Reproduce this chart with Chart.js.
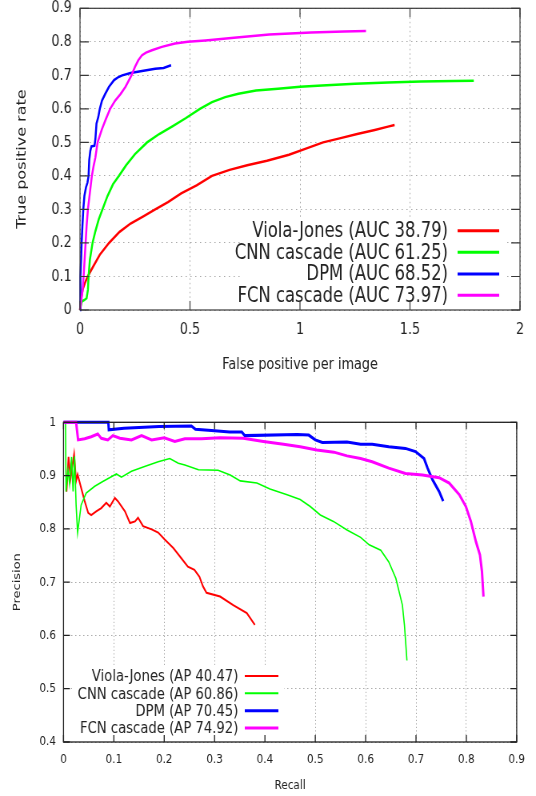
<!DOCTYPE html>
<html><head><meta charset="utf-8">
<script src="https://cdn.jsdelivr.net/npm/chart.js@4.4.1/dist/chart.umd.min.js"></script>
<style>
html,body{margin:0;padding:0;background:#fff;overflow:hidden;}
#wrap{width:536px;height:796px;position:relative;overflow:hidden;background:#fff;}
canvas{position:absolute;left:0;transform:scaleX(0.8);transform-origin:0 0;}
#c1{top:0;}
#c2{top:390px;}
</style></head><body>
<div id="wrap">
<canvas id="c1" width="670" height="380" style="width:670px;height:380px"></canvas>
<canvas id="c2" width="670" height="406" style="width:670px;height:406px"></canvas>
</div>
<script>
// ---------- ROC chart data (false positive per image vs true positive rate) ----------
const rocSeriesLabels = ['Viola-Jones (AUC 38.79)', 'CNN cascade (AUC 61.25)', 'DPM (AUC 68.52)', 'FCN cascade (AUC 73.97)'];
const rocXTickValues = [0, 0.5, 1, 1.5, 2];
const rocXTickLabels = ['0', '0.5', '1', '1.5', '2'];
const rocYTickValues = [0, 0.1, 0.2, 0.3, 0.4, 0.5, 0.6, 0.7, 0.8, 0.9];
const rocYTickLabels = ['0', '0.1', '0.2', '0.3', '0.4', '0.5', '0.6', '0.7', '0.8', '0.9'];

const rocVjFP  = [0, 0.004, 0.012, 0.022, 0.035, 0.06, 0.09, 0.132, 0.18, 0.23, 0.29, 0.342, 0.40, 0.46, 0.53, 0.60, 0.68, 0.76, 0.85, 0.95, 1.03, 1.105, 1.18, 1.26, 1.34, 1.40, 1.43];
const rocVjTPR = [0, 0.03, 0.06, 0.08, 0.1, 0.13, 0.165, 0.2, 0.233, 0.258, 0.28, 0.3, 0.322, 0.348, 0.372, 0.4, 0.418, 0.432, 0.445, 0.463, 0.482, 0.5, 0.512, 0.525, 0.537, 0.547, 0.552];

const rocCnnFP  = [0, 0.008, 0.02, 0.03, 0.036, 0.039, 0.045, 0.057, 0.07, 0.085, 0.102, 0.125, 0.15, 0.177, 0.21, 0.25, 0.305, 0.36, 0.42, 0.48, 0.545, 0.6, 0.66, 0.72, 0.8, 0.9, 1.0, 1.1, 1.25, 1.4, 1.55, 1.7, 1.79];
const rocCnnTPR = [0, 0.025, 0.03, 0.035, 0.06, 0.1, 0.15, 0.2, 0.235, 0.27, 0.3, 0.34, 0.375, 0.4, 0.432, 0.465, 0.5, 0.525, 0.548, 0.572, 0.6, 0.62, 0.635, 0.645, 0.655, 0.66, 0.666, 0.67, 0.675, 0.679, 0.682, 0.683, 0.684];

const rocDpmFP  = [0, 0.001, 0.003, 0.005, 0.0075, 0.011, 0.015, 0.02, 0.027, 0.034, 0.039, 0.042, 0.047, 0.052, 0.066, 0.07, 0.075, 0.083, 0.09, 0.1, 0.115, 0.132, 0.155, 0.175, 0.192, 0.23, 0.282, 0.342, 0.38, 0.414];
const rocDpmTPR = [0, 0.06, 0.1, 0.15, 0.2, 0.25, 0.3, 0.34, 0.365, 0.38, 0.4, 0.447, 0.475, 0.488, 0.49, 0.51, 0.556, 0.575, 0.6, 0.625, 0.645, 0.666, 0.686, 0.695, 0.70, 0.707, 0.713, 0.72, 0.722, 0.73];

const rocFcnFP  = [0, 0.006, 0.012, 0.0165, 0.021, 0.0255, 0.03, 0.036, 0.045, 0.054, 0.062, 0.07, 0.08, 0.1, 0.118, 0.137, 0.16, 0.185, 0.207, 0.234, 0.25, 0.265, 0.282, 0.3, 0.327, 0.372, 0.432, 0.49, 0.57, 0.7, 0.86, 1.05, 1.2, 1.30];
const rocFcnTPR = [0, 0.03, 0.06, 0.1, 0.15, 0.2, 0.25, 0.3, 0.35, 0.4, 0.43, 0.455, 0.5, 0.54, 0.57, 0.6, 0.625, 0.645, 0.666, 0.7, 0.725, 0.745, 0.76, 0.768, 0.775, 0.785, 0.795, 0.8, 0.804, 0.812, 0.822, 0.828, 0.831, 0.832];

// ---------- Precision / recall chart data ----------
const prSeriesLabels = ['Viola-Jones (AP 40.47)', 'CNN cascade (AP 60.86)', 'DPM (AP 70.45)', 'FCN cascade (AP 74.92)'];
const prXTickValues = [0, 0.1, 0.2, 0.3, 0.4, 0.5, 0.6, 0.7, 0.8, 0.9];
const prXTickLabels = ['0', '0.1', '0.2', '0.3', '0.4', '0.5', '0.6', '0.7', '0.8', '0.9'];
const prYTickValues = [0.4, 0.5, 0.6, 0.7, 0.8, 0.9, 1];
const prYTickLabels = ['0.4', '0.5', '0.6', '0.7', '0.8', '0.9', '1'];

const prVjRecall    = [0.006, 0.01, 0.014, 0.021, 0.025, 0.028, 0.035, 0.042, 0.049, 0.055, 0.065, 0.075, 0.085, 0.092, 0.102, 0.108, 0.122, 0.132, 0.142, 0.148, 0.158, 0.175, 0.188, 0.201, 0.218, 0.234, 0.247, 0.26, 0.27, 0.277, 0.284, 0.311, 0.337, 0.364, 0.38];
const prVjPrecision = [0.87, 0.935, 0.895, 0.94, 0.89, 0.902, 0.877, 0.852, 0.83, 0.826, 0.833, 0.839, 0.849, 0.842, 0.858, 0.852, 0.833, 0.811, 0.814, 0.821, 0.805, 0.799, 0.793, 0.78, 0.764, 0.745, 0.729, 0.723, 0.71, 0.692, 0.68, 0.673, 0.657, 0.642, 0.62];

const prCnnRecall    = [0.004, 0.005, 0.009, 0.012, 0.016, 0.019, 0.022, 0.025, 0.028, 0.035, 0.045, 0.062, 0.078, 0.095, 0.105, 0.115, 0.135, 0.161, 0.188, 0.211, 0.228, 0.241, 0.268, 0.307, 0.331, 0.351, 0.384, 0.41, 0.444, 0.47, 0.49, 0.51, 0.536, 0.563, 0.59, 0.607, 0.63, 0.646, 0.66, 0.673, 0.677, 0.68, 0.682];
const prCnnPrecision = [1.0, 0.87, 0.91, 0.885, 0.935, 0.87, 0.936, 0.845, 0.793, 0.845, 0.867, 0.88, 0.889, 0.898, 0.903, 0.897, 0.908, 0.917, 0.926, 0.932, 0.923, 0.92, 0.911, 0.91, 0.901, 0.89, 0.886, 0.875, 0.864, 0.855, 0.842, 0.826, 0.814, 0.798, 0.784, 0.77, 0.76, 0.738, 0.707, 0.657, 0.62, 0.58, 0.553];

const prDpmRecall    = [0, 0.089, 0.09, 0.12, 0.19, 0.254, 0.262, 0.3, 0.33, 0.354, 0.36, 0.464, 0.487, 0.5, 0.514, 0.563, 0.59, 0.613, 0.646, 0.679, 0.699, 0.716, 0.723, 0.733, 0.746, 0.754];
const prDpmPrecision = [1, 1, 0.986, 0.989, 0.992, 0.993, 0.987, 0.984, 0.982, 0.982, 0.975, 0.977, 0.976, 0.967, 0.962, 0.963, 0.959, 0.959, 0.954, 0.951, 0.945, 0.932, 0.914, 0.892, 0.87, 0.852];

const prFcnRecall    = [0, 0.025, 0.029, 0.042, 0.055, 0.068, 0.075, 0.088, 0.098, 0.112, 0.135, 0.155, 0.175, 0.2, 0.221, 0.241, 0.274, 0.311, 0.357, 0.397, 0.437, 0.47, 0.503, 0.537, 0.563, 0.59, 0.613, 0.646, 0.679, 0.713, 0.746, 0.766, 0.786, 0.799, 0.809, 0.819, 0.827, 0.831, 0.834];
const prFcnPrecision = [1, 1, 0.967, 0.969, 0.973, 0.978, 0.97, 0.967, 0.975, 0.97, 0.967, 0.975, 0.967, 0.971, 0.964, 0.969, 0.969, 0.971, 0.97, 0.964, 0.959, 0.954, 0.948, 0.944, 0.937, 0.932, 0.926, 0.914, 0.904, 0.901, 0.896, 0.886, 0.864, 0.842, 0.814, 0.776, 0.751, 0.72, 0.673];

// ---------- styling ----------
const FONT = '"DejaVu Sans", sans-serif';
const TEXT = '#222222';
const GRID = '#a6a6a6';
const seriesColors = ['#ff0000', '#00ff00', '#0000ff', '#ff00ff'];

function pts(xs, ys) { return xs.map((x, i) => ({ x: x, y: ys[i] })); }
function labelFor(values, labels) {
  return function (v) {
    const i = values.findIndex(t => Math.abs(t - v) < 1e-9);
    return i >= 0 ? labels[i] : '';
  };
}

const gnuFrame = {
  id: 'gnuFrame',
  afterDatasetsDraw(chart, args, o) {
    const k = o.key; if (!k) return;
    const ctx = chart.ctx;
    ctx.save();
    ctx.fillStyle = '#ffffff';
    ctx.fillRect(k.box[0], k.box[1], k.box[2] - k.box[0], k.box[3] - k.box[1]);
    ctx.font = k.fontSize + 'px ' + FONT;
    ctx.textAlign = 'right';
    ctx.textBaseline = 'middle';
    chart.data.datasets.forEach((ds, i) => {
      const yy = k.rows[i];
      ctx.fillStyle = TEXT;
      ctx.fillText(ds.label, k.textRight, yy + 1);
      ctx.strokeStyle = ds.borderColor;
      ctx.lineWidth = k.lineWidths[i];
      ctx.beginPath();
      ctx.moveTo(k.lineX[0], yy);
      ctx.lineTo(k.lineX[1], yy);
      ctx.stroke();
    });
    ctx.restore();
  },
  afterDraw(chart, args, o) {
    const ctx = chart.ctx, a = chart.chartArea, xs = chart.scales.x, ys = chart.scales.y;
    ctx.save();
    ctx.strokeStyle = o.color;
    ctx.lineWidth = o.width;
    ctx.strokeRect(a.left, a.top, a.right - a.left, a.bottom - a.top);
    ctx.beginPath();
    xs.ticks.forEach(t => {
      const px = xs.getPixelForValue(t.value);
      ctx.moveTo(px, a.bottom); ctx.lineTo(px, a.bottom - o.tickV);
      ctx.moveTo(px, a.top); ctx.lineTo(px, a.top + o.tickV);
    });
    ys.ticks.forEach(t => {
      const py = ys.getPixelForValue(t.value);
      ctx.moveTo(a.left, py); ctx.lineTo(a.left + o.tickH, py);
      ctx.moveTo(a.right, py); ctx.lineTo(a.right - o.tickH, py);
    });
    ctx.stroke();
    ctx.restore();
  }
};

function makeDatasets(labels, series, widths) {
  return series.map((s, i) => ({
    label: labels[i],
    data: pts(s[0], s[1]),
    borderColor: seriesColors[i],
    backgroundColor: seriesColors[i],
    borderWidth: widths[i],
    pointRadius: 0,
    pointHoverRadius: 0,
    tension: 0,
    fill: false,
    clip: false,
    order: 4 - i
  }));
}

function axis(cfg) {
  return {
    type: 'linear',
    min: cfg.min, max: cfg.max,
    afterBuildTicks: s => { s.ticks = cfg.values.map(v => ({ value: v })); },
    afterFit: s => {
      if (cfg.width !== undefined) s.width = cfg.width;
      if (cfg.height !== undefined) s.height = cfg.height;
      s.paddingTop = 0; s.paddingBottom = 0; s.paddingLeft = 0; s.paddingRight = 0;
    },
    ticks: {
      callback: labelFor(cfg.values, cfg.labels),
      font: { family: FONT, size: cfg.tickFont },
      color: TEXT,
      padding: cfg.tickPad,
      maxRotation: 0, minRotation: 0, autoSkip: false
    },
    grid: { color: GRID, lineWidth: 1, drawTicks: false },
    border: { display: false, dash: cfg.dash },
    title: {
      display: true, text: cfg.title,
      font: { family: FONT, size: cfg.titleFont },
      color: TEXT,
      padding: cfg.titlePad
    }
  };
}

// ---------- ROC chart ----------
new Chart(document.getElementById('c1'), {
  type: 'line',
  data: {
    datasets: makeDatasets(rocSeriesLabels, [
      [rocVjFP, rocVjTPR], [rocCnnFP, rocCnnTPR], [rocDpmFP, rocDpmTPR], [rocFcnFP, rocFcnTPR]
    ], [2.5, 2.5, 2.5, 2.5])
  },
  plugins: [gnuFrame],
  options: {
    responsive: false, animation: false, devicePixelRatio: 1,
    layout: { padding: { left: 0, right: 20, top: 8.3, bottom: 0 } },
    interaction: { mode: null },
    plugins: {
      legend: { display: false }, tooltip: { enabled: false },
      gnuFrame: {
        color: '#383838', width: 1.2, tickV: 9, tickH: 11,
        key: {
          box: [300, 219, 633, 307],
          fontSize: 20.5,
          textRight: 560,
          lineX: [572, 624],
          rows: [230.7, 252.3, 274.0, 295.2],
          lineWidths: [3, 3, 3, 3]
        }
      }
    },
    scales: {
      x: axis({ min: 0, max: 2, values: rocXTickValues, labels: rocXTickLabels, height: 70,
        tickFont: 16, tickPad: 10.4, dash: [1.5, 3], title: 'False positive per image', titleFont: 16,
        titlePad: { top: 0, bottom: 5.4 } }),
      y: axis({ min: 0, max: 0.9, values: rocYTickValues, labels: rocYTickLabels, width: 100,
        tickFont: 16, tickPad: 10.4, dash: [1.5, 4.5], title: 'True positive rate', titleFont: 16,
        titlePad: { top: 18, bottom: 0 } })
    }
  }
});

// ---------- Precision / recall chart ----------
new Chart(document.getElementById('c2'), {
  type: 'line',
  data: {
    datasets: makeDatasets(prSeriesLabels, [
      [prVjRecall, prVjPrecision], [prCnnRecall, prCnnPrecision], [prDpmRecall, prDpmPrecision], [prFcnRecall, prFcnPrecision]
    ], [2, 1.6, 3, 3])
  },
  plugins: [gnuFrame],
  options: {
    responsive: false, animation: false, devicePixelRatio: 1,
    layout: { padding: { left: 0, right: 24.1, top: 32.3, bottom: 0 } },
    interaction: { mode: null },
    plugins: {
      legend: { display: false }, tooltip: { enabled: false },
      gnuFrame: {
        color: '#202020', width: 1.3, tickV: 7, tickH: 8,
        key: {
          box: [90, 276, 355, 348],
          fontSize: 16.5,
          textRight: 298,
          lineX: [306, 348],
          rows: [286, 303.3, 320.7, 338],
          lineWidths: [2, 2, 3, 3]
        }
      }
    },
    scales: {
      x: axis({ min: 0, max: 0.9, values: prXTickValues, labels: prXTickLabels, height: 54,
        tickFont: 13, tickPad: 10.2, dash: [1.2, 2.3], title: 'Recall', titleFont: 13,
        titlePad: { top: 0, bottom: 2.2 } }),
      y: axis({ min: 0.4, max: 1, values: prYTickValues, labels: prYTickLabels, width: 79.4,
        tickFont: 13, tickPad: 9.4, dash: [1.5, 3.5], title: 'Precision', titleFont: 13,
        titlePad: { top: 13.45, bottom: 0 } })
    }
  }
});
</script>
</body></html>
